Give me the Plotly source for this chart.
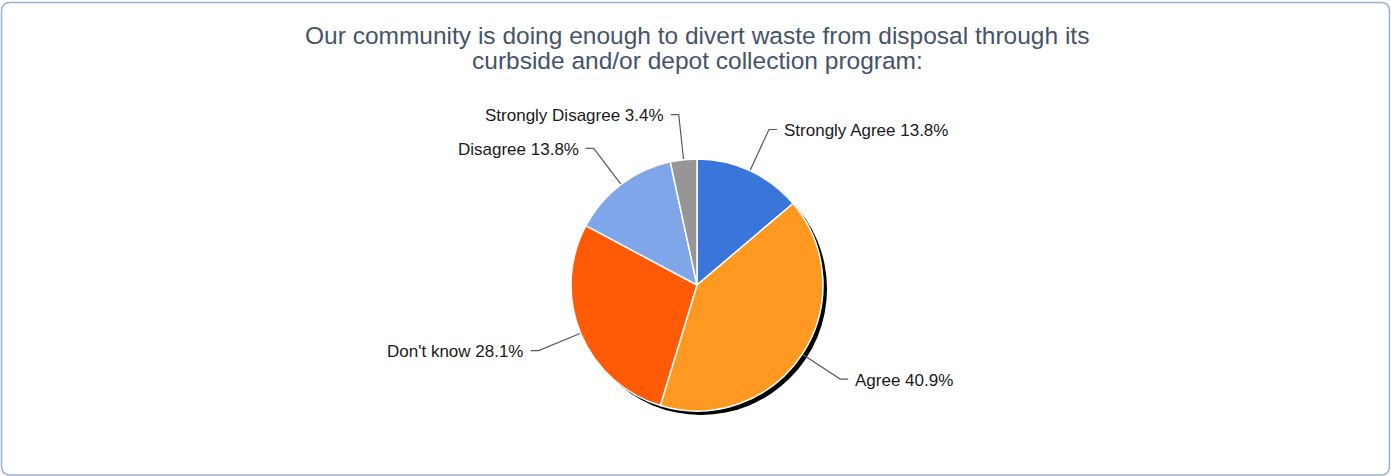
import math
import plotly.graph_objects as go

# ---- data ----
categories = ["Strongly Agree", "Agree", "Don't know", "Disagree", "Strongly Disagree"]
percents = [13.8, 40.9, 28.1, 13.8, 3.4]
colors = ["#3A76D9", "#FF9921", "#FF5A05", "#7EA6E8", "#969696"]
title_lines = [
    "Our community is doing enough to divert waste from disposal through its",
    "curbside and/or depot collection program:",
]

W, H = 1391, 476
CX, CY, R = 697, 285, 126  # pie centre / radius in pixels
ELBOW = 1.36  # leader elbow radius factor

fig = go.Figure()

# shadow (style only)
fig.add_shape(type="circle", xref="x", yref="y",
              x0=CX - R + 4, x1=CX + R + 4, y0=CY - R + 4, y1=CY + R + 4,
              fillcolor="#000000", line=dict(width=0), layer="below")

fig.add_trace(go.Pie(
    labels=categories, values=percents, sort=False, direction="clockwise",
    rotation=0, marker=dict(colors=colors, line=dict(color="white", width=1.5)),
    textinfo="none", hoverinfo="label+percent", showlegend=False,
    domain=dict(x=[(CX - R) / W, (CX + R) / W], y=[(H - CY - R) / H, (H - CY + R) / H]),
))

# leader lines + labels derived from slice mid-angles
total = sum(percents)
cum = 0.0
lx, ly = [], []
for cat, p in zip(categories, percents):
    mid = (cum + p / 2) / total * 2 * math.pi
    cum += p
    sx, sy = CX + R * math.sin(mid), CY - R * math.cos(mid)
    ex, ey = CX + ELBOW * R * math.sin(mid), CY - ELBOW * R * math.cos(mid)
    right = math.sin(mid) >= 0
    hx = ex + (8 if right else -8)
    lx += [sx, ex, hx, None]
    ly += [sy, ey, ey, None]
    fig.add_annotation(x=hx + (5 if right else -5), y=ey + 1, xref="x", yref="y",
                       text=f"{cat} {p:.1f}%", showarrow=False,
                       xanchor="left" if right else "right", yanchor="middle",
                       font=dict(family="Liberation Sans", size=17, color="#1A1A1A"))

fig.add_trace(go.Scatter(x=lx, y=ly, mode="lines", line=dict(color="#5A5A5A", width=1.2),
                         hoverinfo="skip", showlegend=False))

# title
for i, t in enumerate(title_lines):
    fig.add_annotation(x=CX, y=35 + 25 * i, xref="x", yref="y", text=t, showarrow=False,
                       xanchor="center", yanchor="middle",
                       font=dict(family="Liberation Sans", size=24.5, color="#44546A"))

# rounded border
x0, y0, x1, y1, r = 1.5, 2.5, 1389.5, 475, 9
path = (f"M{x0+r},{y0} L{x1-r},{y0} Q{x1},{y0} {x1},{y0+r} L{x1},{y1-r} Q{x1},{y1} {x1-r},{y1} "
        f"L{x0+r},{y1} Q{x0},{y1} {x0},{y1-r} L{x0},{y0+r} Q{x0},{y0} {x0+r},{y0} Z")
fig.add_shape(type="path", path=path, xref="x", yref="y",
              line=dict(color="#97B1D6", width=1.5))

fig.update_layout(
    width=W, height=H, margin=dict(l=0, r=0, t=0, b=0),
    paper_bgcolor="white", plot_bgcolor="rgba(0,0,0,0)",
    xaxis=dict(range=[0, W], visible=False, fixedrange=True),
    yaxis=dict(range=[H, 0], visible=False, fixedrange=True),
)

fig.write_html("out.html")
